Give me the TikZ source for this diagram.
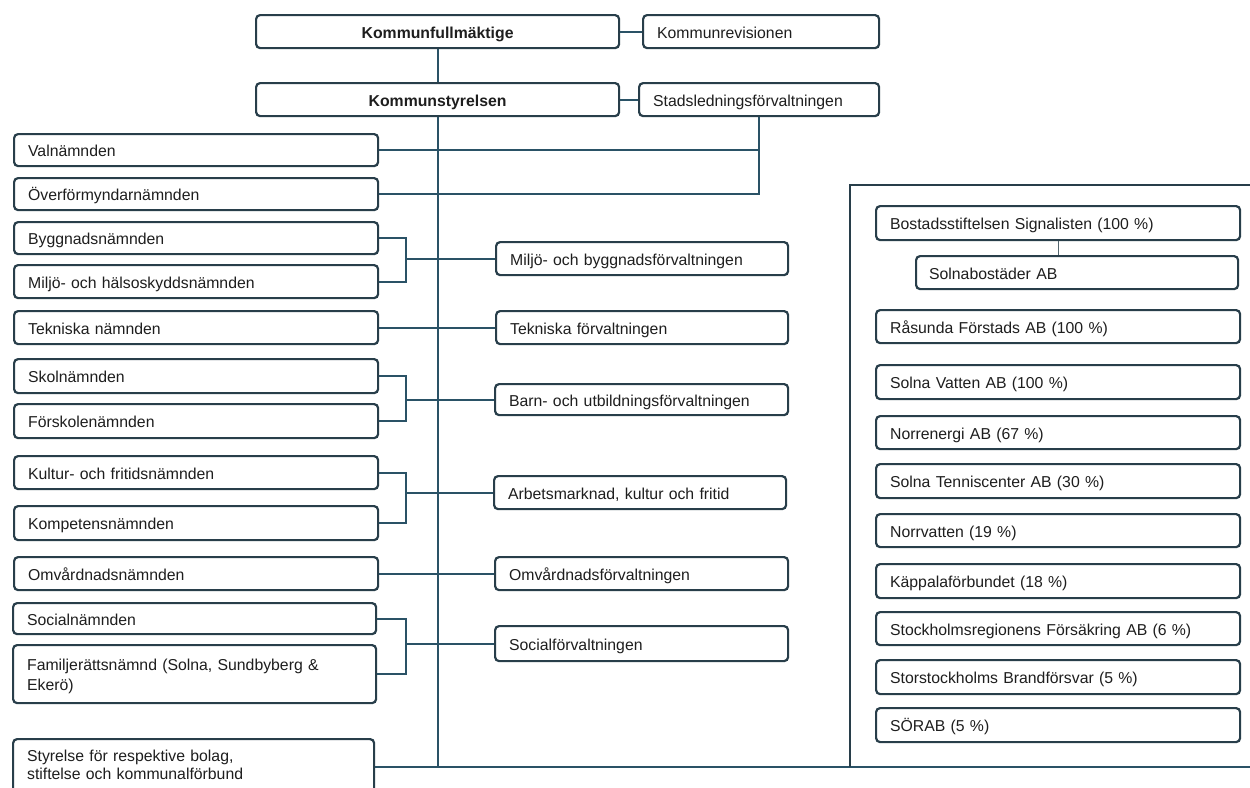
\documentclass[tikz,border=0pt]{standalone}
\usepackage{fontspec}
\setmainfont{Liberation Sans}
\usetikzlibrary{calc}
\definecolor{boxc}{RGB}{40,62,74}
\definecolor{linec}{RGB}{42,82,102}
\definecolor{txtc}{RGB}{30,30,30}
% #1 extra options, #2 name, #3 x1, #4 y1, #5 x2, #6 y2, #7 text
\newcommand\obox[7][]{%
  \node[obox, anchor=north west,
        minimum width={#5pt-#3pt}, minimum height={#6pt-#4pt},
        text width={#5pt-#3pt-28pt}, #1] (#2) at (#3,#4) {#7};}
\begin{document}
\begin{tikzpicture}[x=1pt,y=-1pt,
  obox/.style={draw=boxc, line width=2.2pt, rounded corners=4pt, fill=white,
    inner xsep=14pt, inner ysep=0pt, align=left, text=txtc,
    font=\fontsize{15.8}{20}\selectfont, text height=15pt, text depth=2pt},
  conn/.style={draw=linec, line width=2.2pt},
  thin/.style={draw=boxc!80, line width=1pt}]
\useasboundingbox (0,0) rectangle (1250,787);
\clip (0,0) rectangle (1250,787);

% top
\obox[align=center, font=\fontsize{15.8}{20}\selectfont\bfseries]{kf}{255}{14}{618}{47}{Kommunfullmäktige}
\obox{kr}{642}{14}{878}{47}{Kommunrevisionen}
\obox[align=center, font=\fontsize{15.8}{20}\selectfont\bfseries]{ks}{255}{82}{618}{115}{Kommunstyrelsen}
\obox{sl}{638}{82}{878}{115}{Stadsledningsförvaltningen}

% left column
\obox{val}{13}{133}{377}{165}{Valnämnden}
\obox{ovf}{13}{177}{377}{209}{Överförmyndarnämnden}
\obox{byg}{13}{221}{377}{253}{Byggnadsnämnden}
\obox{mhs}{13}{264}{377}{297}{Miljö- och hälsoskyddsnämnden}
\obox{tek}{13}{310}{377}{343}{Tekniska nämnden}
\obox{sko}{13}{358}{377}{392}{Skolnämnden}
\obox{fsk}{13}{403}{377}{437}{Förskolenämnden}
\obox{kul}{13}{455}{377}{488}{Kultur- och fritidsnämnden}
\obox{kom}{13}{505}{377}{539}{Kompetensnämnden}
\obox{omv}{13}{556}{377}{589}{Omvårdnadsnämnden}
\obox{soc}{12}{602}{375}{633}{Socialnämnden}
\obox[text depth=22pt]{fam}{12}{644}{375}{702}{Familjerättsnämnd (Solna, Sundbyberg \&\\Ekerö)}
\obox[text depth=27pt, font=\fontsize{15.8}{18.5}\selectfont]{sty}{12}{738}{373}{794}{Styrelse för respektive bolag,\\stiftelse och kommunalförbund}

% middle column
\obox{mbf}{495}{241}{787}{274}{Miljö- och byggnadsförvaltningen}
\obox{tf}{495}{310}{787}{343}{Tekniska förvaltningen}
\obox{buf}{494}{383}{787}{414}{Barn- och utbildningsförvaltningen}
\obox{amk}{493}{475}{785}{508}{Arbetsmarknad, kultur och fritid}
\obox{omf}{494}{556}{787}{589}{Omvårdnadsförvaltningen}
\obox{sof}{494}{625}{787}{660}{Socialförvaltningen}

% right panel
\obox{bos}{875}{205}{1239}{239}{Bostadsstiftelsen Signalisten (100 \%)}
\obox[inner xsep=13pt, text width={1237pt-915pt-26pt}]{sab}{915}{255}{1237}{288}{Solnabostäder AB}
\obox{ras}{875}{309}{1239}{342}{Råsunda Förstads AB (100 \%)}
\obox{svt}{875}{364}{1239}{398}{Solna Vatten AB (100 \%)}
\obox{nor}{875}{415}{1239}{448}{Norrenergi AB (67 \%)}
\obox{ten}{875}{463}{1239}{497}{Solna Tenniscenter AB (30 \%)}
\obox{nvt}{875}{513}{1239}{546}{Norrvatten (19 \%)}
\obox{kap}{875}{563}{1239}{597}{Käppalaförbundet (18 \%)}
\obox{sfa}{875}{611}{1239}{644}{Stockholmsregionens Försäkring AB (6 \%)}
\obox{sbf}{875}{659}{1239}{693}{Storstockholms Brandförsvar (5 \%)}
\obox{sor}{875}{707}{1239}{741}{SÖRAB (5 \%)}

% helper coordinates
\coordinate (bx) at (406,0);
\coordinate (re) at (1252,0);
\coordinate (pl) at (850,185);

% connectors: top
\draw[conn] (kf.east) -- (kr.west);
\draw[conn] (ks.east) -- (sl.west);
\draw[conn] (kf.south) -- (ks.north);
\draw[conn] (ks.south) -- (ks.south |- sty.east);
\draw[conn] (sty.east) -- (sty.east -| re);

% Stadsledning branch
\draw[conn] (sl.south) |- (ovf.east);
\draw[conn] (val.east) -- (val.east -| sl.south);

% brackets
\draw[conn] (byg.east) -| (bx |- mhs.east) -- (mhs.east);
\draw[conn] (mbf.west -| bx) -- (mbf.west);
\draw[conn] (tek.east) -- (tf.west);
\draw[conn] (sko.east) -| (bx |- fsk.east) -- (fsk.east);
\draw[conn] (buf.west -| bx) -- (buf.west);
\draw[conn] (kul.east) -| (bx |- kom.east) -- (kom.east);
\draw[conn] (amk.west -| bx) -- (amk.west);
\draw[conn] (omv.east) -- (omf.west);
\draw[conn] (soc.east) -| (bx |- fam.east) -- (fam.east);
\draw[conn] (sof.west -| bx) -- (sof.west);

% right panel frame
\draw[draw=boxc, line width=2.2pt] (pl -| re) -- (pl) -- (pl |- sty.east);

% subsidiary link
\draw[thin] (bos.south) -- (bos.south |- sab.north);
\end{tikzpicture}
\end{document}
